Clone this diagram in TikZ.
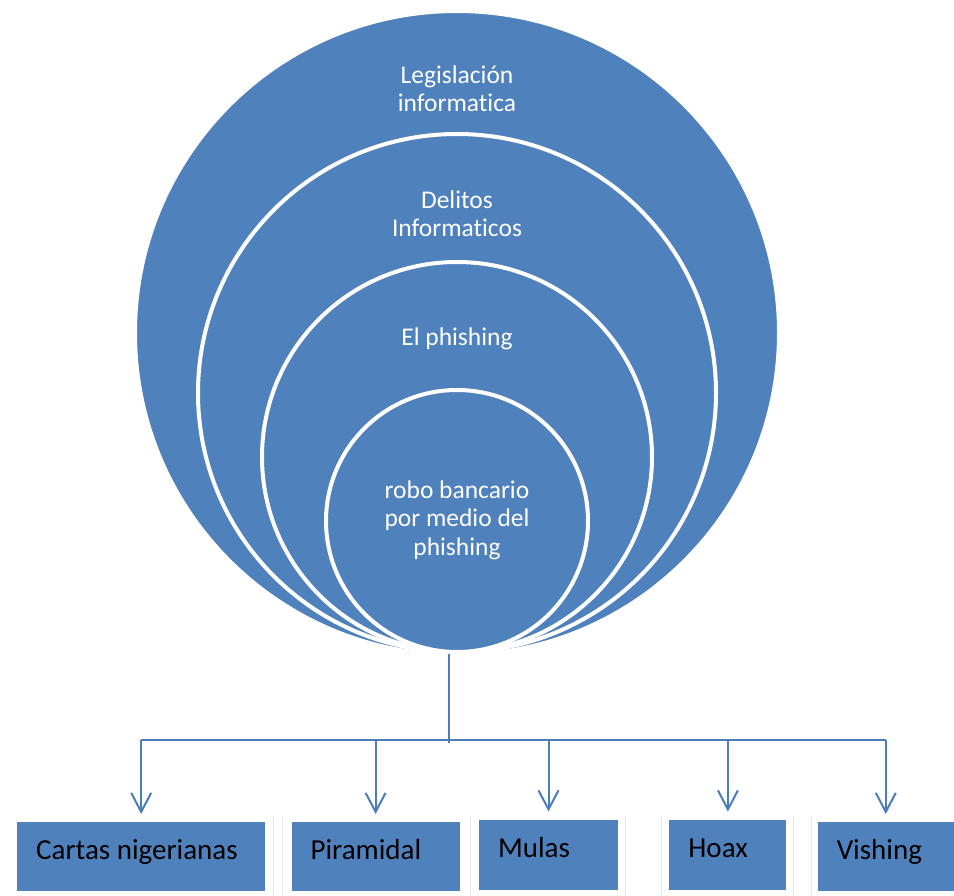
\documentclass[tikz,border=0pt]{standalone}
\usepackage{fontspec}
\setmainfont{Carlito}[Ligatures=NoCommon]
\usetikzlibrary{arrows.meta,positioning}
\definecolor{ringblue}{HTML}{4F81BD}
\definecolor{linkblue}{HTML}{4A7EBB}

\begin{document}
\begin{tikzpicture}[x=1pt,y=-1pt,node distance=20pt,
  every node/.style={inner sep=0pt},
  ring/.style={circle,fill=ringblue,draw=white,line width=4pt},
  ringtext/.style={text=white,align=center,anchor=base,font=\fontsize{25.5}{28.5}\selectfont},
  tbox/.style={rectangle,fill=ringblue,minimum height=69pt},
  btext/.style={anchor=base west,font=\fontsize{29}{34}\selectfont},
  link/.style={draw=linkblue,line width=2pt}]
\useasboundingbox (0,0) rectangle (954,896);
% nested circles, all touching at the bottom
\node[ring,minimum size=644pt] (legis) at (457,333) {};
\node[ring,minimum size=518pt] (delitos) at (457,393) {};
\node[ring,minimum size=390pt] (phish) at (457,457) {};
\node[ring,minimum size=262pt] (robo) at (457,521) {};
% labels sit on the baseline of their last line
\node[ringtext] (legis-t) at (457,112) {Legislación\\informatica};
\node[ringtext] (delitos-t) at (457,237) {Delitos\\Informaticos};
\node[ringtext] (phish-t) at (457,345) {El phishing};
\node[ringtext] (robo-t) at (457,555) {robo bancario\\por medio del\\phishing};
% faint frame edges around the boxes
\foreach \x in {273,282,470,625,661,793,811}{\draw[black!9,line width=0.8pt] (\x,816)--(\x,896);}
% bottom row
\node[tbox,minimum width=248pt,anchor=north west] (cartas) at (17,822) {};
\node[tbox,minimum width=168pt,right=26pt of cartas] (piramidal) {};
\node[tbox,minimum width=139pt,minimum height=70pt,right=19pt of piramidal,yshift=2pt] (mulas) {};
\node[tbox,minimum width=117pt,minimum height=70pt,right=51pt of mulas] (hoax) {};
\node[tbox,minimum width=136pt,right=31pt of hoax,yshift=-2pt] (vishing) {};
\foreach \n/\t in {cartas/Cartas nigerianas,piramidal/Piramidal,mulas/Mulas,hoax/Hoax,vishing/Vishing}{\node[btext] (\n-t) at ([xshift=19pt,yshift=-37.5pt]\n.north west) {\t};}
% connectors
\coordinate (bus) at (449,740);
\draw[link] (robo.south -| bus)--([yshift=-3pt]bus);
\draw[link] (cartas.north |- bus)--(vishing.north |- bus);
\foreach \n in {cartas,piramidal,mulas,hoax,vishing}{\draw[link,-{Straight Barb[length=19pt,width=20pt]}] (\n.north |- bus)--([yshift=8pt]\n.north);}
\end{tikzpicture}
\end{document}
